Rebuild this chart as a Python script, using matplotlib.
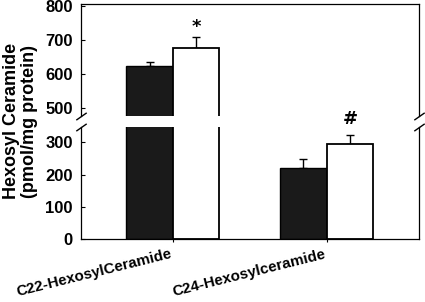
import matplotlib
matplotlib.use('Agg')
import matplotlib.pyplot as plt
import numpy as np

groups = ['C22-HexosylCeramide', 'C24-Hexosylceramide']
control = [622, 219]
control_err = [14, 29]
treated = [675, 295]
treated_err = [33, 28]
marks = ['*', '#']
mark_offsets = [4, 8]
yticks_low = [0, 100, 200, 300]
yticks_high = [500, 600, 700, 800]
ylim_low = (0, 347)
ylim_high = (477, 805)

plt.rcParams['font.family'] = ['Liberation Sans', 'DejaVu Sans']
plt.rcParams['font.weight'] = 'bold'

W, H = 425, 302
fig = plt.figure(figsize=(W / 100, H / 100), dpi=100)
L, R = 80.5 / W, 419 / W
ax_lo = fig.add_axes([L, (H - 239.3) / H, R - L, (239.3 - 127) / H])
ax_hi = fig.add_axes([L, (H - 116) / H, R - L, (116 - 4) / H])
ax_hi.patch.set_visible(False)
ax_lo.patch.set_visible(False)
ax_lo.set_zorder(3)

x = np.arange(len(groups))
w = 0.302
for ax in (ax_lo, ax_hi):
    ax.bar(x - w / 2, control, w, color='#1a1a1a', edgecolor='black', linewidth=1.0, zorder=2)
    ax.bar(x + w / 2, treated, w, color='white', edgecolor='black', linewidth=1.3, zorder=2)
    ax.errorbar(x - w / 2, control, yerr=[np.zeros(len(x)), control_err], fmt='none',
                ecolor='black', elinewidth=1.0, capsize=3, capthick=1.0, zorder=1)
    ax.errorbar(x + w / 2, treated, yerr=[np.zeros(len(x)), treated_err], fmt='none',
                ecolor='black', elinewidth=1.0, capsize=3, capthick=1.0, zorder=1)
    ax.set_xlim(-0.6, 1.6)
    for s in ax.spines.values():
        s.set_linewidth(0.9)
    ax.tick_params(axis='y', direction='in', length=3, width=0.8, labelsize=12, pad=5.5)

ax_lo.set_ylim(*ylim_low)
ax_hi.set_ylim(*ylim_high)
ax_lo.set_yticks(yticks_low)
ax_hi.set_yticks(yticks_high)
ax_lo.spines['top'].set_visible(False)
ax_hi.spines['bottom'].set_visible(False)
ax_hi.tick_params(axis='x', bottom=False, labelbottom=False)
ax_lo.set_xticks(x)
ax_lo.set_xticklabels(groups, rotation=14, ha='right', fontsize=10.9)
ax_lo.tick_params(axis='x', direction='inout', length=5, width=0.8, pad=3)

# significance marks
for i in range(len(groups)):
    top = treated[i] + treated_err[i]
    ax = ax_hi if top > ylim_high[0] else ax_lo
    ax.annotate(marks[i], xy=(x[i] + w / 2, top), xytext=(0, mark_offsets[i]),
                textcoords='offset points', ha='center', va='baseline',
                fontsize=13, fontweight='bold', family='DejaVu Sans',
                annotation_clip=False, zorder=5)

# break marks
kw = dict(marker=[(-1, -0.7), (1, 0.7)], markersize=7.5, linestyle='none',
          color='black', mec='black', mew=1.0, clip_on=False)
ax_hi.plot([0, 1], [0, 0], transform=ax_hi.transAxes, **kw)
ax_lo.plot([0, 1], [1, 1], transform=ax_lo.transAxes, **kw)

fig.text(0.048, (H - 121) / H, 'Hexosyl Ceramide\n(pmol/mg protein)', rotation=90,
         ha='center', va='center', fontsize=13, fontweight='bold', linespacing=1.1)

fig.savefig('out.png', dpi=100)
